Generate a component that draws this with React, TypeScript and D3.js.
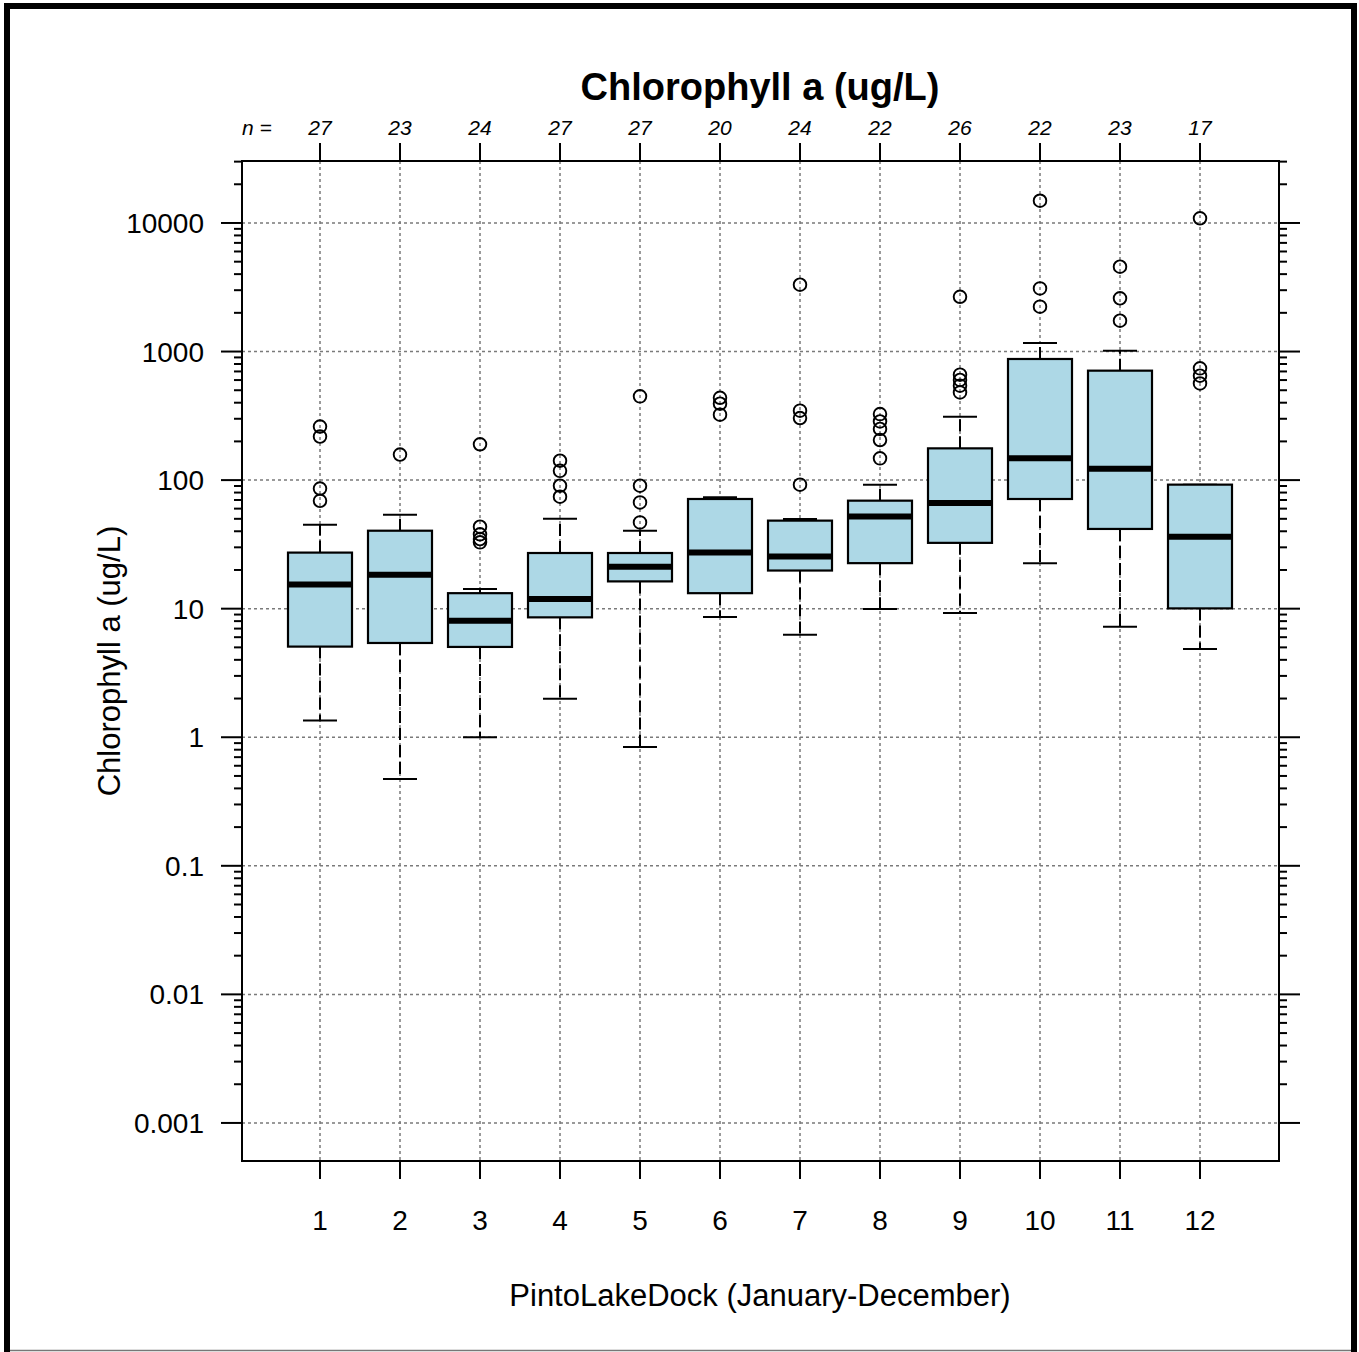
import React from "react";
import * as d3 from "d3";

// ---- data ----
const months = [1, 2, 3, 4, 5, 6, 7, 8, 9, 10, 11, 12];
const nCounts = [27, 23, 24, 27, 27, 20, 24, 22, 26, 22, 23, 17];
const whiskerLow = [1.35, 0.473, 1.0, 1.99, 0.84, 8.63, 6.28, 9.95, 9.27, 22.6, 7.25, 4.86];
const q1 = [5.07, 5.41, 5.04, 8.56, 16.3, 13.2, 19.8, 22.6, 32.5, 71.3, 41.7, 10.05];
const medians = [15.4, 18.4, 8.07, 11.9, 21.2, 27.3, 25.4, 52, 66.4, 147.6, 122.7, 36.3];
const q3 = [27.3, 40.4, 13.2, 27.1, 27.1, 71.3, 48.4, 69.2, 176.6, 875, 710, 92.2];
const whiskerHigh = [45, 53.8, 14.2, 50.1, 40.4, 73.4, 49.9, 92.2, 311, 1166, 1016, 92.2];
const outliers: number[][] = [
  [261, 218, 86, 69],
  [158],
  [190, 43.4, 37.9, 34.8, 32.8],
  [141.6, 118, 90.5, 74.3],
  [448, 90.5, 67.1, 46.9],
  [437, 393, 323],
  [3311, 347, 304, 92.2],
  [326, 286, 250, 205, 147.6],
  [2667, 661, 601, 543, 481],
  [14890, 3098, 2234],
  [4571, 2594, 1738],
  [10870, 740, 649, 565],
];
const majorTicks = [0.001, 0.01, 0.1, 1, 10, 100, 1000, 10000];
const majorLabels = ["0.001", "0.01", "0.1", "1", "10", "100", "1000", "10000"];

const title = "Chlorophyll a (ug/L)";
const yTitle = "Chlorophyll a (ug/L)";
const xTitle = "PintoLakeDock (January-December)";

const W = 1359;
const H = 1352;
const plot = { left: 242, right: 1279, top: 161, bottom: 1161 };
const FONT = "'Liberation Sans', Arial, sans-serif";

export default function App() {
  const x = d3.scaleLinear().domain([0.025, 12.9875]).range([plot.left, plot.right]);
  const y = d3
    .scaleLog()
    .domain([Math.pow(10, -3.296), Math.pow(10, 4.482)])
    .range([plot.bottom, plot.top]);

  const yMax = Math.pow(10, 4.482);
  const minorTicks: number[] = [];
  for (let k = -3; k <= 4; k++) {
    for (let m = 2; m <= 9; m++) {
      const v = m * Math.pow(10, k);
      if (v >= 0.001 && v <= yMax) minorTicks.push(v);
    }
  }

  const boxW = 64;
  const capW = 34;
  const dash = "12 5";

  return (
    <svg
      width={W}
      height={H}
      viewBox={`0 0 ${W} ${H}`}
      style={{ position: "absolute", left: 0, top: 0, display: "block", background: "#fff" }}
      fontFamily={FONT}
    >
      <rect x={0} y={0} width={W} height={H} fill="#fff" />
      {/* outer frame */}
      <rect x={7} y={6} width={1347} height={1352} fill="none" stroke="#000" strokeWidth={6} />
      <line x1={10} x2={1351} y1={1350.5} y2={1350.5} stroke="#777" strokeWidth={1.5} />

      {/* title */}
      <text x={760} y={100} textAnchor="middle" fontSize={38} fontWeight="bold" fill="#000">
        {title}
      </text>

      {/* grid */}
      <g stroke="#7a7a7a" strokeWidth={1.5} strokeDasharray="3 3">
        {majorTicks.map((v) => (
          <line key={"h" + v} x1={plot.left} x2={plot.right} y1={y(v)} y2={y(v)} />
        ))}
        {months.map((m) => (
          <line key={"v" + m} x1={x(m)} x2={x(m)} y1={plot.top} y2={plot.bottom} />
        ))}
      </g>

      {/* whiskers */}
      <g stroke="#000" strokeWidth={2}>
        {months.map((m, i) => (
          <g key={"w" + m}>
            <line x1={x(m)} x2={x(m)} y1={y(q3[i])} y2={y(whiskerHigh[i])} strokeDasharray={dash} />
            <line x1={x(m)} x2={x(m)} y1={y(q1[i])} y2={y(whiskerLow[i])} strokeDasharray={dash} />
            <line x1={x(m) - capW / 2} x2={x(m) + capW / 2} y1={y(whiskerHigh[i])} y2={y(whiskerHigh[i])} />
            <line x1={x(m) - capW / 2} x2={x(m) + capW / 2} y1={y(whiskerLow[i])} y2={y(whiskerLow[i])} />
          </g>
        ))}
      </g>

      {/* boxes */}
      {months.map((m, i) => (
        <g key={"b" + m}>
          <rect
            x={x(m) - boxW / 2}
            y={y(q3[i])}
            width={boxW}
            height={y(q1[i]) - y(q3[i])}
            fill="#ADD8E6"
            stroke="#000"
            strokeWidth={2.2}
          />
          <line
            x1={x(m) - boxW / 2}
            x2={x(m) + boxW / 2}
            y1={y(medians[i])}
            y2={y(medians[i])}
            stroke="#000"
            strokeWidth={6}
          />
        </g>
      ))}

      {/* outliers */}
      <g fill="none" stroke="#000" strokeWidth={1.9}>
        {months.map((m, i) =>
          outliers[i].map((v, j) => <circle key={"o" + m + "-" + j} cx={x(m)} cy={y(v)} r={6.3} />)
        )}
      </g>

      {/* plot border */}
      <rect
        x={plot.left}
        y={plot.top}
        width={plot.right - plot.left}
        height={plot.bottom - plot.top}
        fill="none"
        stroke="#000"
        strokeWidth={2}
      />

      {/* y ticks left & right */}
      <g stroke="#000" strokeWidth={2}>
        {majorTicks.map((v) => (
          <g key={"mt" + v}>
            <line x1={plot.left - 21} x2={plot.left} y1={y(v)} y2={y(v)} />
            <line x1={plot.right} x2={plot.right + 21} y1={y(v)} y2={y(v)} />
          </g>
        ))}
        {minorTicks.map((v) => (
          <g key={"mn" + v}>
            <line x1={plot.left - 8} x2={plot.left} y1={y(v)} y2={y(v)} />
            <line x1={plot.right} x2={plot.right + 8} y1={y(v)} y2={y(v)} />
          </g>
        ))}
        {months.map((m) => (
          <g key={"xt" + m}>
            <line x1={x(m)} x2={x(m)} y1={plot.top - 18} y2={plot.top} />
            <line x1={x(m)} x2={x(m)} y1={plot.bottom} y2={plot.bottom + 18} />
          </g>
        ))}
      </g>

      {/* y tick labels */}
      <g fontSize={28} fill="#000" textAnchor="end">
        {majorTicks.map((v, i) => (
          <text key={"yl" + v} x={204} y={y(v)} dy="0.36em">
            {majorLabels[i]}
          </text>
        ))}
      </g>

      {/* x tick labels */}
      <g fontSize={28} fill="#000" textAnchor="middle">
        {months.map((m) => (
          <text key={"xl" + m} x={x(m)} y={1230}>
            {String(m)}
          </text>
        ))}
      </g>

      {/* n labels */}
      <g fontSize={21} fontStyle="italic" fill="#000" textAnchor="middle">
        <text x={257} y={135}>
          n =
        </text>
        {months.map((m, i) => (
          <text key={"n" + m} x={x(m)} y={135}>
            {String(nCounts[i])}
          </text>
        ))}
      </g>

      {/* axis titles */}
      <text x={760} y={1306} textAnchor="middle" fontSize={31} fill="#000">
        {xTitle}
      </text>
      <text
        transform={`translate(120, ${(plot.top + plot.bottom) / 2}) rotate(-90)`}
        textAnchor="middle"
        fontSize={31}
        fill="#000"
      >
        {yTitle}
      </text>
    </svg>
  );
}
